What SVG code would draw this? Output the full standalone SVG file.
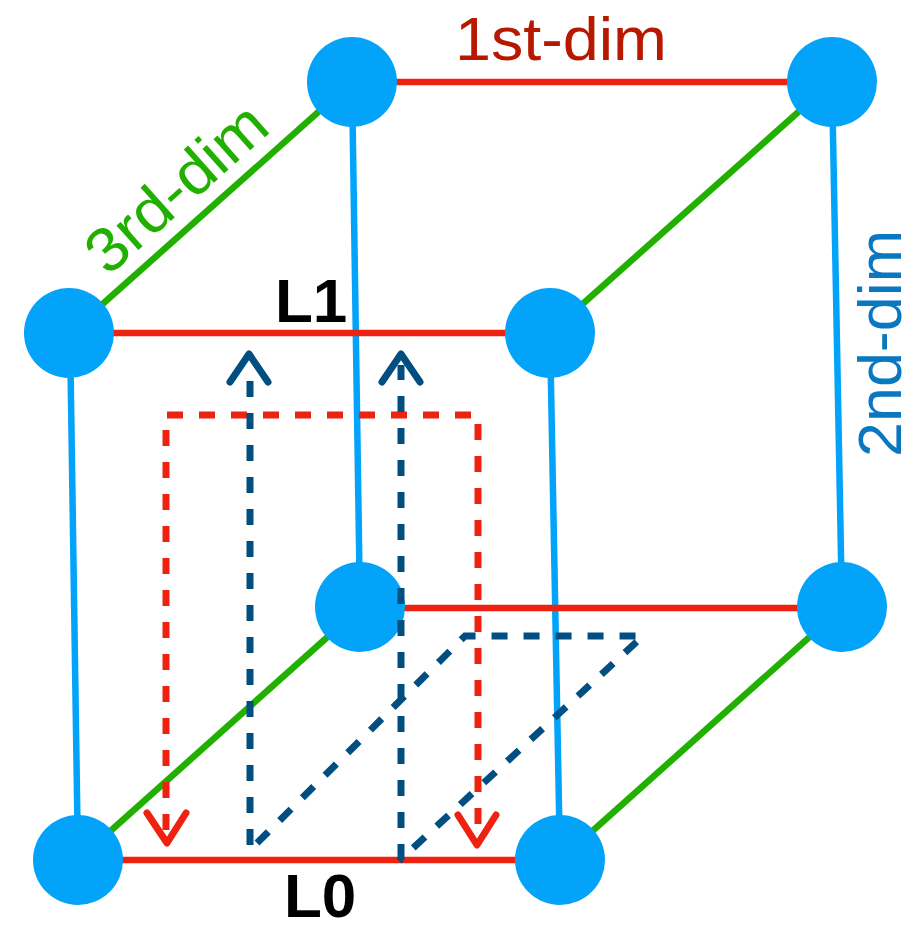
<svg xmlns="http://www.w3.org/2000/svg" width="914" height="929" viewBox="0 0 914 929">
<style>
.red{stroke:#ee2211;stroke-width:6.5;fill:none}
.green{stroke:#22b000;stroke-width:6.5;fill:none}
.blue{stroke:#03a3fa;stroke-width:6.5;fill:none}
.rdash{stroke:#ee2211;stroke-width:7;fill:none;stroke-dasharray:16 16}
.bdash{stroke:#004f80;stroke-width:7;fill:none;stroke-dasharray:16 16}
.rarrow{stroke:#ee2211;stroke-width:7;fill:none;stroke-linecap:round;stroke-linejoin:round}
.barrow{stroke:#004f80;stroke-width:7;fill:none;stroke-linecap:round;stroke-linejoin:round}
.node{fill:#03a3fa}
.lbl{font-family:"Liberation Sans",Arial,sans-serif;font-size:62px}
.bold{font-family:"Liberation Sans",Arial,sans-serif;font-size:62px;font-weight:bold;fill:#000}
</style>
<g id="connectors">
<line class="green" x1="70" y1="333" x2="352" y2="82"/>
<line class="green" x1="550" y1="333" x2="832" y2="82"/>
<line class="green" x1="78" y1="860" x2="360" y2="608"/>
<line class="green" x1="560" y1="860" x2="842" y2="608"/>
<line class="blue" x1="70" y1="333" x2="78" y2="860"/>
<line class="blue" x1="352" y1="82" x2="360" y2="608"/>
<line class="blue" x1="550" y1="333" x2="560" y2="860"/>
<line class="blue" x1="832" y1="82" x2="842" y2="608"/>
<line class="red" x1="352" y1="82" x2="832" y2="82"/>
<line class="red" x1="70" y1="333" x2="550" y2="333"/>
<line class="red" x1="360" y1="608" x2="842" y2="608"/>
<line class="red" x1="78" y1="860" x2="560" y2="860"/>
</g>
<g id="n-tbl"><circle class="node" cx="352" cy="82" r="45"/></g>
<g id="n-tbr"><circle class="node" cx="832" cy="82" r="45"/></g>
<g id="n-tfl"><circle class="node" cx="69" cy="333" r="45"/></g>
<g id="n-tfr"><circle class="node" cx="550" cy="333" r="45"/></g>
<g id="n-bbl"><circle class="node" cx="360" cy="607" r="45"/></g>
<g id="n-bbr"><circle class="node" cx="842" cy="607" r="45"/></g>
<g id="n-bfl"><circle class="node" cx="78" cy="860" r="45"/></g>
<g id="n-bfr"><circle class="node" cx="560" cy="860" r="45"/></g>
<g id="dashed">
<path class="rdash" d="M166 830 V415 H478 V832"/>
<polyline class="rarrow" points="147,813 167,843 186,813"/>
<polyline class="rarrow" points="458,815 477,845 496,815"/>
<path class="bdash" d="M250 845 V365"/>
<path class="bdash" d="M401 860 V365"/>
<polyline class="barrow" points="230,382 249,354 268,382"/>
<polyline class="barrow" points="382,382 401,354 420,382"/>
<path class="bdash" d="M257 843 L465 636 H643 L399 861"/>
</g>
<g id="labels">
<text class="lbl" x="455" y="60" fill="#b81800" textLength="212" lengthAdjust="spacingAndGlyphs">1st-dim</text>
<text class="lbl" transform="translate(108,277) rotate(-41.7)" fill="#22b000" textLength="220" lengthAdjust="spacingAndGlyphs">3rd-dim</text>
<text class="lbl" transform="translate(901,457) rotate(-90)" fill="#0a78c0" textLength="227" lengthAdjust="spacingAndGlyphs">2nd-dim</text>
<text class="bold" x="284" y="917">L0</text>
<text class="bold" x="275" y="322">L1</text>
</g>
</svg>
